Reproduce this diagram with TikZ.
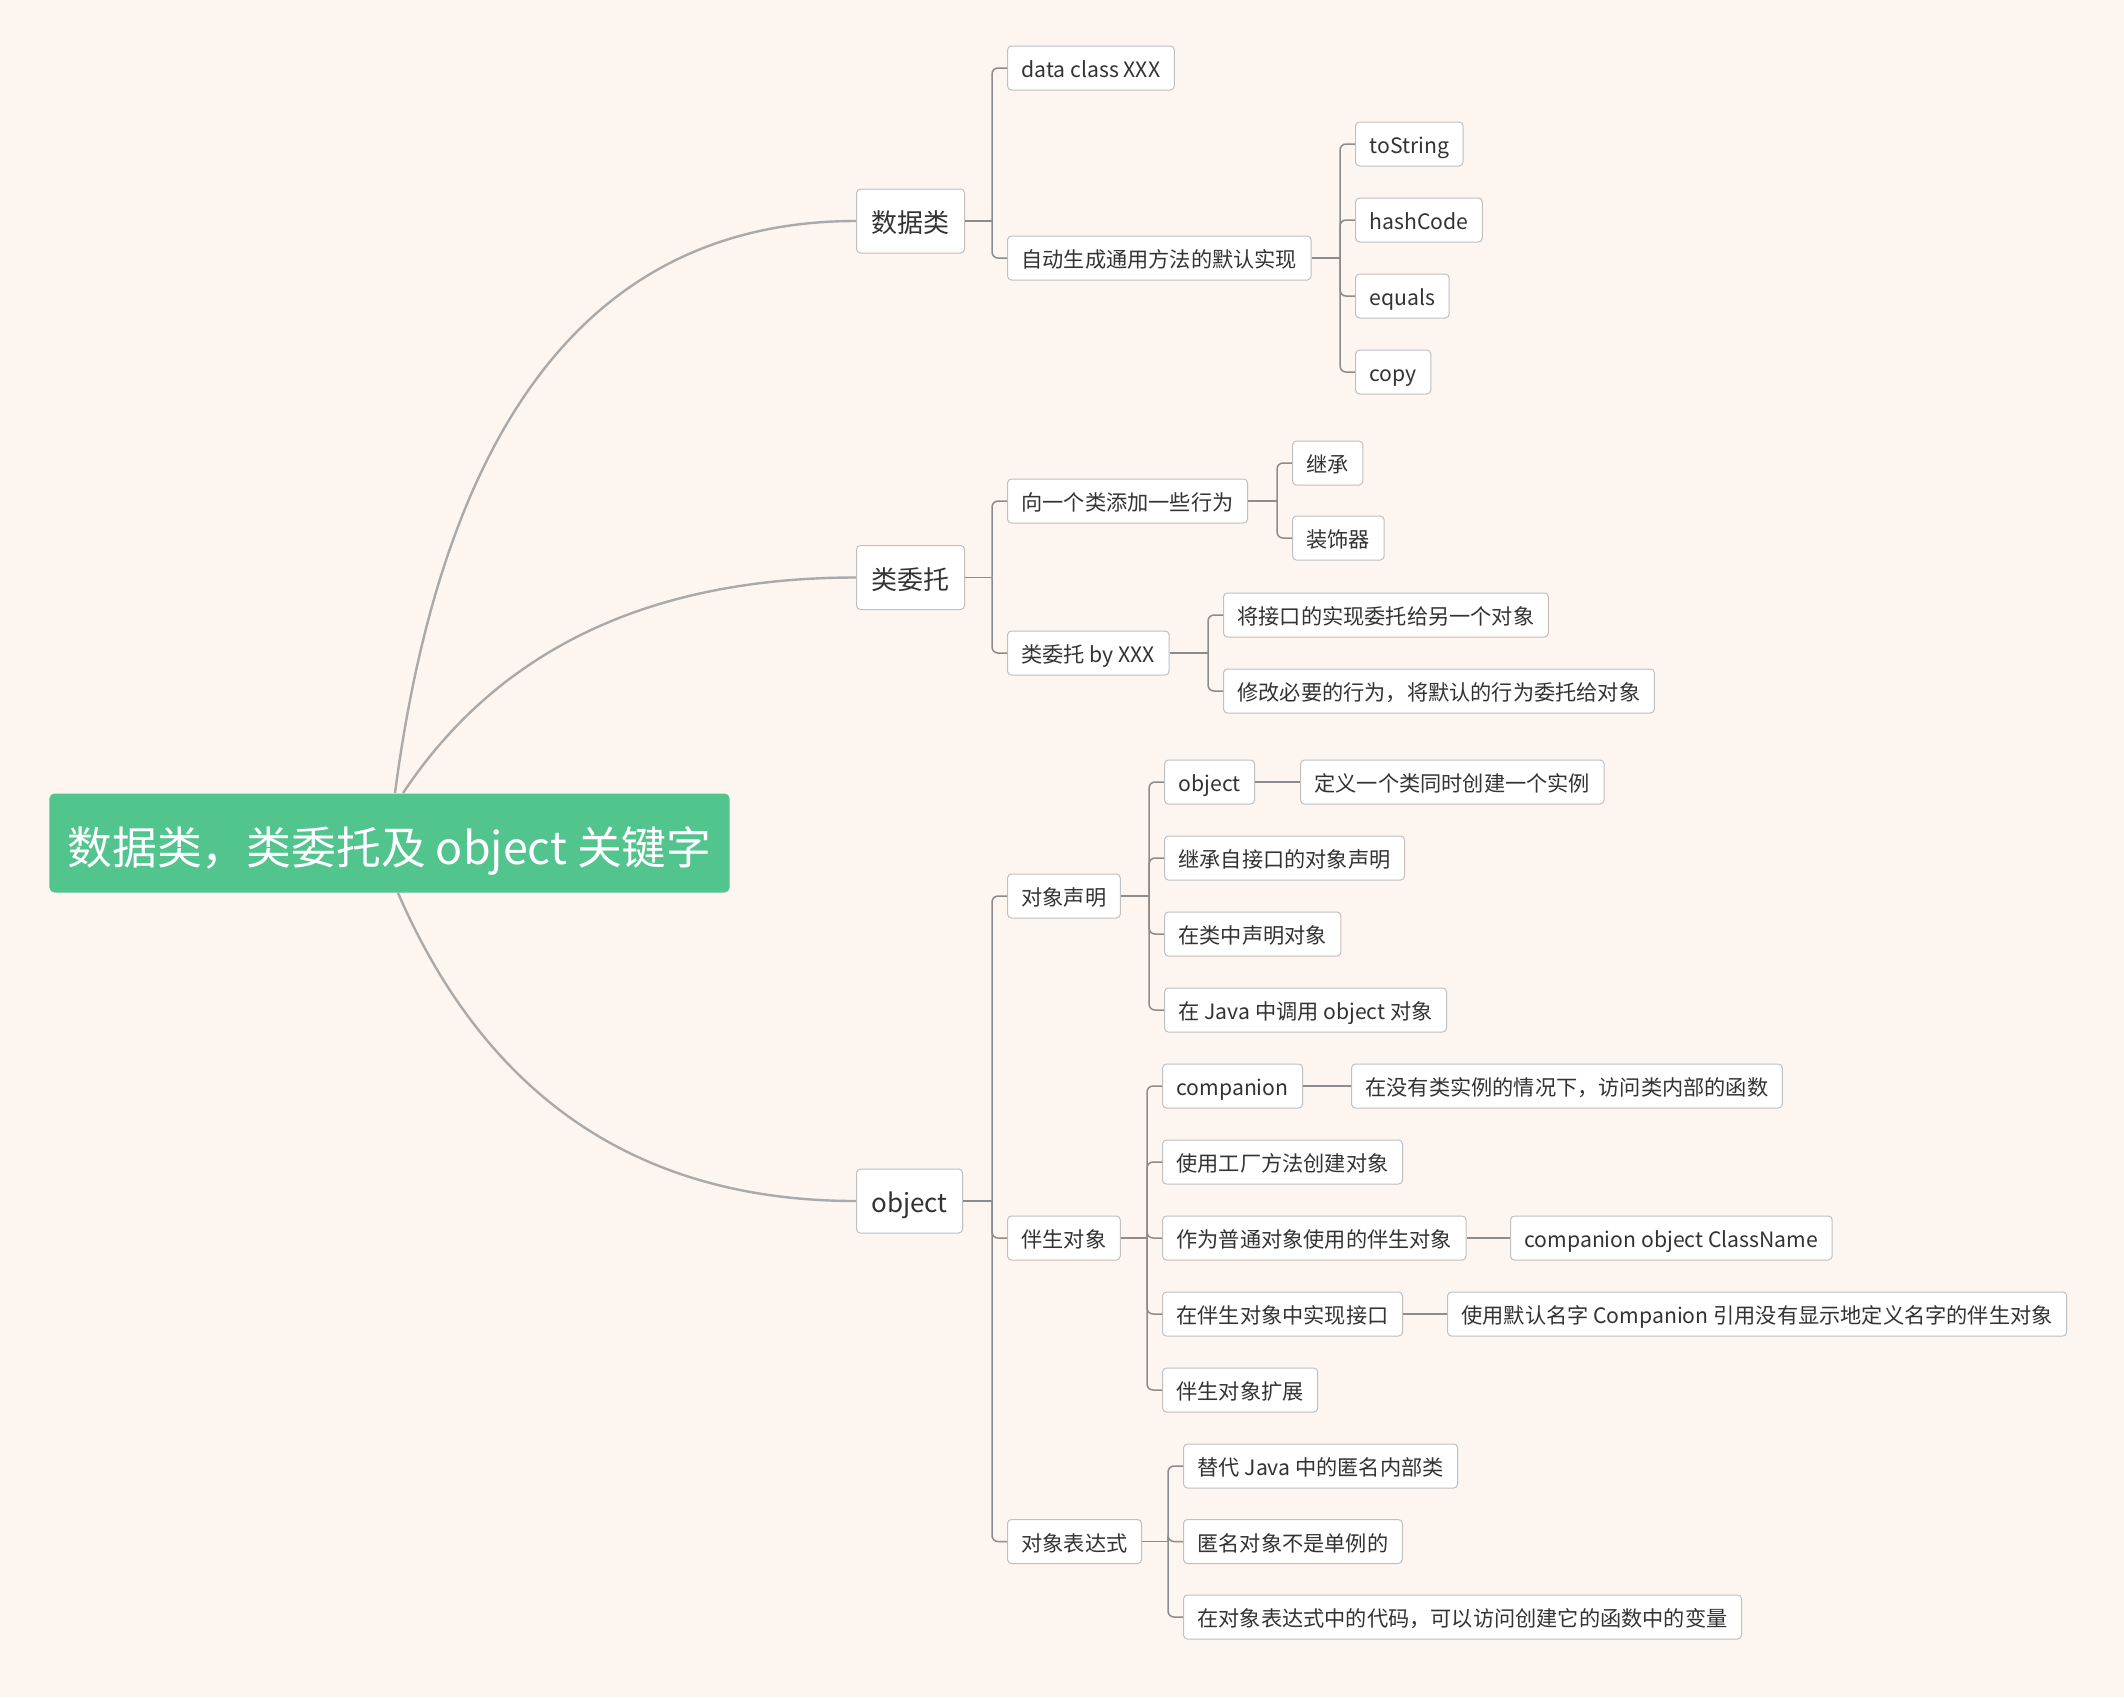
\documentclass[tikz,border=0pt]{standalone}
\usepackage{fontspec}
\setmainfont{Noto Sans CJK SC}
\usepackage{tikz}
\usetikzlibrary{calc}
\definecolor{paper}{RGB}{252,245,240}
\definecolor{rootgreen}{RGB}{82,196,141}
\definecolor{inkgray}{RGB}{51,51,51}
\definecolor{boxline}{RGB}{192,192,192}
\definecolor{linkgray}{RGB}{170,170,170}
\definecolor{forkgray}{RGB}{140,140,140}

\begin{document}
\begin{tikzpicture}[
        x=0.5pt, y=-0.5pt,
        topic/.style={
            rectangle,
            draw=boxline,
            line width=0.5pt,
            fill=white,
            text=inkgray,
            rounded corners=2pt,
            anchor=west,
            inner sep=0pt,
            inner xsep=7pt,
            minimum height=22pt,
            text height=10pt,
            text depth=0.2pt,
            font=\fontsize{10.6}{12}\selectfont
        },
        main/.style={
            topic,
            inner xsep=7.5pt,
            minimum height=32pt,
            text height=12.4pt,
            text depth=0.5pt,
            font=\fontsize{13}{15}\selectfont
        },
        central/.style={
            rectangle,
            fill=rootgreen,
            text=white,
            rounded corners=2.5pt,
            inner sep=0pt,
            inner xsep=9pt,
            minimum height=49.5pt,
            text height=21.5pt,
            text depth=0.5pt,
            font=\fontsize{22.4}{26}\selectfont
        },
        branch/.style={draw=linkgray, line width=1.2pt},
        fork/.style={draw=forkgray, line width=0.75pt}
    ]
        % Background
        \fill[paper] (0,0) rectangle (2124,1697);

        % Central topic
        \node[central] (root) at (389.5,843) {数据类，类委托及 object 关键字};

        % Main topics
        \node[main] (data) at (856,221) {数据类};
        \node[main] (deleg) at (856,577.5) {类委托};
        \node[main] (obj) at (856,1201) {object};

        % Data class
        \node[topic] (dataclass) at (1007,68) {data class XXX};
        \node[topic] (autogen) at (1007,258) {自动生成通用方法的默认实现};
        \node[topic] (tostring) at (1355,144) {toString};
        \node[topic] (hashcode) at (1355,220) {hashCode};
        \node[topic] (equals) at (1355,296) {equals};
        \node[topic] (copy) at (1355,372) {copy};

        % Class delegation
        \node[topic] (addbeh) at (1007,501) {向一个类添加一些行为};
        \node[topic] (inherit) at (1292,463) {继承};
        \node[topic] (decorator) at (1292,538) {装饰器};
        \node[topic] (byxxx) at (1007,653) {类委托 by XXX};
        \node[topic] (delegate) at (1223,615) {将接口的实现委托给另一个对象};
        \node[topic] (modify) at (1223,691) {修改必要的行为，将默认的行为委托给对象};

        % Object declaration
        \node[topic] (decl) at (1007,896) {对象声明};
        \node[topic] (declobj) at (1164,782) {object};
        \node[topic] (declinst) at (1300,782) {定义一个类同时创建一个实例};
        \node[topic] (declitf) at (1164,858) {继承自接口的对象声明};
        \node[topic] (declin) at (1164,934) {在类中声明对象};
        \node[topic] (decljava) at (1164,1010) {在 Java 中调用 object 对象};

        % Companion object
        \node[topic] (comp) at (1007,1238) {伴生对象};
        \node[topic] (compkw) at (1162,1086) {companion};
        \node[topic] (compfn) at (1351,1086) {在没有类实例的情况下，访问类内部的函数};
        \node[topic] (factory) at (1162,1162) {使用工厂方法创建对象};
        \node[topic] (asobj) at (1162,1238) {作为普通对象使用的伴生对象};
        \node[topic] (compname) at (1510,1238) {companion object ClassName};
        \node[topic] (impl) at (1162,1314) {在伴生对象中实现接口};
        \node[topic] (implname) at (1447,1314) {使用默认名字 Companion 引用没有显示地定义名字的伴生对象};
        \node[topic] (compext) at (1162,1390) {伴生对象扩展};

        % Object expression
        \node[topic] (expr) at (1007,1541.5) {对象表达式};
        \node[topic] (anon) at (1183,1466) {替代 Java 中的匿名内部类};
        \node[topic] (notsingle) at (1183,1541.5) {匿名对象不是单例的};
        \node[topic] (access) at (1183,1617) {在对象表达式中的代码，可以访问创建它的函数中的变量};

        % Curved branches from the central topic
        \draw[branch] ($(root.north)+(5.5,0)$) .. controls (445,412) and (599,221) .. (data.west);
        \draw[branch] ($(root.north)+(13.5,0)$) .. controls (498,650) and (649,577.5) .. (deleg.west);
        \draw[branch] ($(root.south)+(8.5,0)$) .. controls (487,1098) and (639,1201) .. (obj.west);

        % Forks
        \foreach \p/\c in {data/dataclass, data/autogen,
                autogen/tostring, autogen/hashcode, autogen/equals, autogen/copy,
                deleg/addbeh, deleg/byxxx, addbeh/inherit, addbeh/decorator,
                byxxx/delegate, byxxx/modify,
                obj/decl, obj/comp, obj/expr,
                decl/declobj, decl/declitf, decl/declin, decl/decljava,
                comp/compkw, comp/factory, comp/asobj, comp/impl, comp/compext,
                expr/anon, expr/notsingle, expr/access} {
            \coordinate (spine) at ($(\c.west |- \p.east)+(-15,0)$);
            \draw[fork] (\p.east) -- (spine);
            \draw[fork, rounded corners=3pt] (spine) |- (\c.west);
        }

        % Straight links
        \foreach \p/\c in {declobj/declinst, compkw/compfn, asobj/compname, impl/implname}
            \draw[fork] (\p.east) -- (\c.west);

    \end{tikzpicture}
\end{document}
